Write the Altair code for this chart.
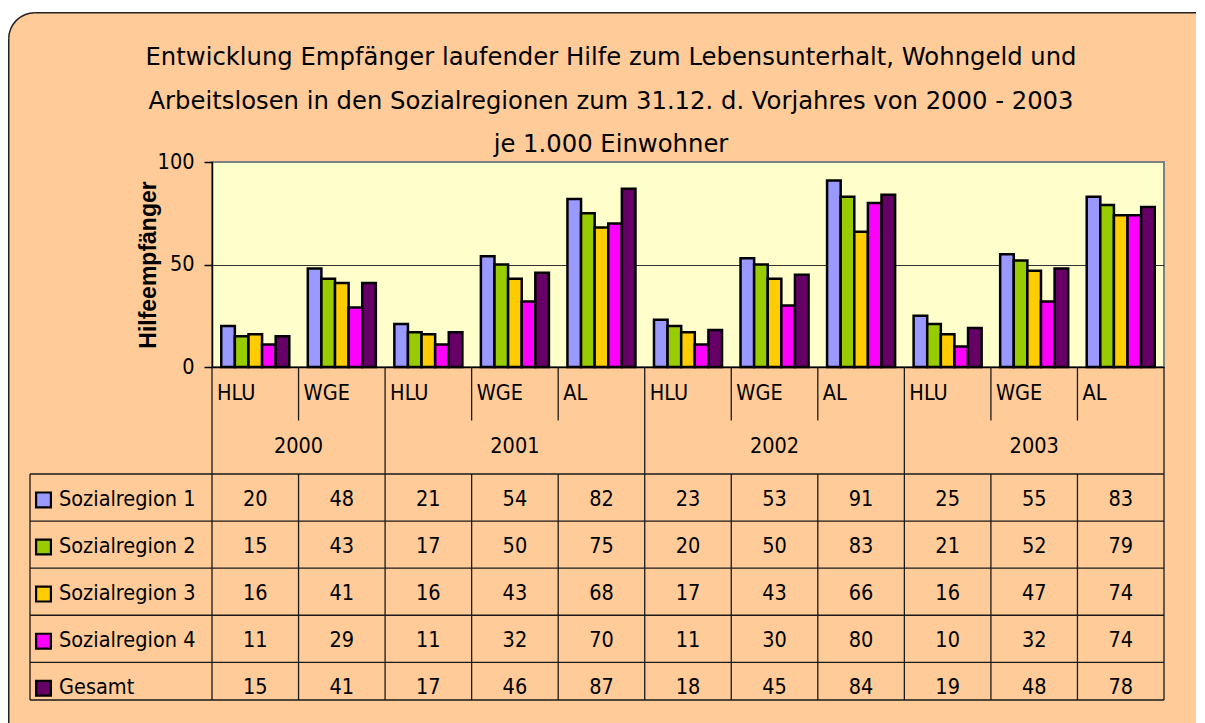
import math
import altair as alt
import pandas as pd

# ---------------- data ----------------
title_lines = [
    "Entwicklung Empfänger laufender Hilfe zum Lebensunterhalt, Wohngeld und",
    "Arbeitslosen in den Sozialregionen zum 31.12. d. Vorjahres von 2000 - 2003",
    "je 1.000 Einwohner",
]
categories = ["HLU", "WGE", "HLU", "WGE", "AL", "HLU", "WGE", "AL", "HLU", "WGE", "AL"]
years = ["2000", "2000", "2001", "2001", "2001", "2002", "2002", "2002", "2003", "2003", "2003"]
series_names = ["Sozialregion 1", "Sozialregion 2", "Sozialregion 3", "Sozialregion 4", "Gesamt"]
region1 = [20, 48, 21, 54, 82, 23, 53, 91, 25, 55, 83]
region2 = [15, 43, 17, 50, 75, 20, 50, 83, 21, 52, 79]
region3 = [16, 41, 16, 43, 68, 17, 43, 66, 16, 47, 74]
region4 = [11, 29, 11, 32, 70, 11, 30, 80, 10, 32, 74]
gesamt = [15, 41, 17, 46, 87, 18, 45, 84, 19, 48, 78]
series_colors = ["#9999FF", "#99CC00", "#FFCC00", "#FF00FF", "#660066"]
y_ticks = [0, 50, 100]
y_title = "Hilfeempfänger"

values = [region1, region2, region3, region4, gesamt]
ncol = len(categories)
nser = len(series_names)

rows = []
for si, (name, vals) in enumerate(zip(series_names, values)):
    for ci, v in enumerate(vals):
        rows.append({"col": ci, "series": name, "sidx": si, "value": v})
df = pd.DataFrame(rows)

# ---------------- layout / style ----------------
FONT_T = "DejaVu Sans Condensed, Noto Sans"
FS = 21.5
LINE = "#1a1a1a"
FRAME = "#222222"
PLOT_W, PLOT_H = 952, 205
LEG_W = 182
HDR_H = 107
TAB_H = 226
TAB_ROWS = 4.8  # last row of the table is cut short
R = 26          # corner radius of the frame
FX0, FY0 = -21.25, -149.25   # frame top-left, relative to the first cell
FX1, FY1 = 1166, 575         # frame right/bottom (page edge / beyond the page)

color_scale = alt.Scale(domain=series_names, range=series_colors)
one = pd.DataFrame({"a": [0]})

# background frame + chart title, drawn in the top-left cell
bg_fill = alt.Chart(one).mark_rect(fill="#FFCC99", cornerRadiusTopLeft=R).encode(
    x=alt.value(FX0), x2=alt.value(FX1), y=alt.value(FY0), y2=alt.value(FY1))
bg_top = alt.Chart(one).mark_rule(color=FRAME, strokeWidth=1.5).encode(
    x=alt.value(FX0 + R), x2=alt.value(FX1), y=alt.value(FY0))
bg_left = alt.Chart(one).mark_rule(color=FRAME, strokeWidth=1.5).encode(
    x=alt.value(FX0), y=alt.value(FY0 + R), y2=alt.value(FY1))
bg_corner = alt.Chart(one).mark_arc(
    fill=FRAME, radius=R + 0.75, radius2=R - 0.75,
    theta=1.5 * math.pi, theta2=2 * math.pi
).encode(x=alt.value(FX0 + R), y=alt.value(FY0 + R))
bg_title = alt.Chart(one).mark_text(
    text=title_lines, font="DejaVu Sans", fontSize=24.3, lineHeight=43.5,
    align="center", baseline="alphabetic", color="black"
).encode(x=alt.value(581), y=alt.value(-97))
bg = alt.layer(bg_fill, bg_top, bg_left, bg_corner, bg_title).properties(width=LEG_W, height=PLOT_H)

# bar chart
bars = alt.Chart(df).mark_bar(stroke="black", strokeWidth=2.5).encode(
    x=alt.X("col:O", scale=alt.Scale(paddingInner=0, paddingOuter=0),
            axis=alt.Axis(labels=False, ticks=False, title=None, grid=False,
                          domainColor="black", domainWidth=1.5)),
    xOffset=alt.XOffset("series:N", sort=series_names,
                        scale=alt.Scale(paddingOuter=0.68, paddingInner=0)),
    y=alt.Y("value:Q", scale=alt.Scale(domain=[0, 100], nice=False),
            axis=alt.Axis(values=y_ticks, title=y_title, grid=True,
                          gridColor={"condition": {"test": "datum.value == 50", "value": "#333333"},
                                     "value": "transparent"},
                          gridWidth=1,
                          domainColor="black", domainWidth=1.5,
                          tickColor="black", tickSize=8, tickWidth=1.5,
                          labelFont=FONT_T, labelFontSize=FS, labelColor="black",
                          labelPadding=10,
                          titleFont="Liberation Sans", titleFontSize=23,
                          titleFontWeight="bold", titleColor="black", titlePadding=-3)),
    color=alt.Color("series:N", scale=color_scale, legend=None),
).properties(width=PLOT_W, height=PLOT_H,
             view=alt.ViewBackground(fill="#FFFFCC", stroke="#808080", strokeWidth=2))

# header (categories + years)
hx = alt.Scale(domain=[0, ncol], nice=False, zero=False)
hy = alt.Scale(domain=[0, 2], nice=False, reverse=True)
hdr_rules = []
for b in range(ncol + 1):
    full = b == 0 or b == ncol or years[b - 1] != years[b]
    hdr_rules.append({"b": b, "y0": 0, "y1": 2 if full else 1})
hdr_rules = pd.DataFrame(hdr_rules)
cat_df = pd.DataFrame({"pos": list(range(ncol)), "label": categories})
yr_rows = []
for y in dict.fromkeys(years):
    idx = [i for i, v in enumerate(years) if v == y]
    yr_rows.append({"year": y, "center": (idx[0] + idx[-1] + 1) / 2})
yr_df = pd.DataFrame(yr_rows)

h_rules = alt.Chart(hdr_rules).mark_rule(color=LINE, strokeWidth=1.3).encode(
    x=alt.X("b:Q", scale=hx, axis=None),
    y=alt.Y("y0:Q", scale=hy, axis=None), y2="y1:Q")
h_cats = alt.Chart(cat_df).mark_text(align="left", baseline="middle", dx=5,
                                     font=FONT_T, fontSize=FS, color="black").encode(
    x=alt.X("pos:Q", scale=hx, axis=None),
    y=alt.datum(0.5, scale=hy), text="label:N")
h_years = alt.Chart(yr_df).mark_text(align="center", baseline="middle",
                                     font=FONT_T, fontSize=FS, color="black").encode(
    x=alt.X("center:Q", scale=hx, axis=None),
    y=alt.datum(1.5, scale=hy), text="year:N")
header = alt.layer(h_rules, h_cats, h_years).properties(width=PLOT_W, height=HDR_H)

empty = alt.Chart(one).mark_point(opacity=0).encode(
    x=alt.value(0), y=alt.value(0)).properties(width=LEG_W, height=HDR_H)

# data table
tx = alt.Scale(domain=[0, ncol], nice=False, zero=False)
ty = alt.Scale(domain=[0, TAB_ROWS], nice=False, zero=False, reverse=True)
row_lines = pd.DataFrame({"yy": list(range(nser)) + [TAB_ROWS]})
col_lines = pd.DataFrame({"b": list(range(ncol + 1))})

t_h = alt.Chart(row_lines).mark_rule(color=LINE, strokeWidth=1.3).encode(
    x=alt.datum(0, scale=tx, axis=None), x2=alt.datum(ncol),
    y=alt.Y("yy:Q", scale=ty, axis=None))
t_v = alt.Chart(col_lines).mark_rule(color=LINE, strokeWidth=1.3).encode(
    x=alt.X("b:Q", scale=tx, axis=None),
    y=alt.datum(0, scale=ty, axis=None), y2=alt.datum(TAB_ROWS))
t_txt = alt.Chart(df).transform_calculate(
    xc="datum.col + 0.5", yc="datum.sidx + 0.55"
).mark_text(align="center", baseline="middle", font=FONT_T, fontSize=FS, color="black").encode(
    x=alt.X("xc:Q", scale=tx, axis=None),
    y=alt.Y("yc:Q", scale=ty, axis=None), text="value:Q")
table = alt.layer(t_h, t_v, t_txt).properties(width=PLOT_W, height=TAB_H)

# legend column of the table
lx = alt.Scale(domain=[0, 1], nice=False, zero=False)
leg_df = pd.DataFrame({"series": series_names, "sidx": list(range(nser))})
l_h = alt.Chart(row_lines).mark_rule(color=LINE, strokeWidth=1.3).encode(
    x=alt.datum(0, scale=lx, axis=None), x2=alt.datum(1),
    y=alt.Y("yy:Q", scale=ty, axis=None))
l_v = alt.Chart(pd.DataFrame({"b": [0]})).mark_rule(color=LINE, strokeWidth=1.3).encode(
    x=alt.X("b:Q", scale=lx, axis=None),
    y=alt.datum(0, scale=ty, axis=None), y2=alt.datum(TAB_ROWS))
l_sq = alt.Chart(leg_df).transform_calculate(yc="datum.sidx + 0.55").mark_point(
    shape="square", filled=True, size=220, stroke="black", strokeWidth=2.2, opacity=1
).encode(
    x=alt.value(13.5), y=alt.Y("yc:Q", scale=ty, axis=None),
    fill=alt.Fill("series:N", scale=color_scale, legend=None))
l_txt = alt.Chart(leg_df).transform_calculate(yc="datum.sidx + 0.55").mark_text(
    align="left", baseline="middle", font=FONT_T, fontSize=FS, color="black"
).encode(x=alt.value(29), y=alt.Y("yc:Q", scale=ty, axis=None), text="series:N")
legend_col = alt.layer(l_h, l_v, l_sq, l_txt).properties(width=LEG_W, height=TAB_H)

chart = alt.concat(
    bg, bars, empty, header, legend_col, table,
    columns=2, spacing=0, bounds="flush", align="each",
).properties(
    padding={"left": 0, "top": 4, "right": 0, "bottom": 0}, background="white"
).configure_view(strokeWidth=0)

chart.save("out.html", embed_options={"renderer": "svg", "actions": False})
